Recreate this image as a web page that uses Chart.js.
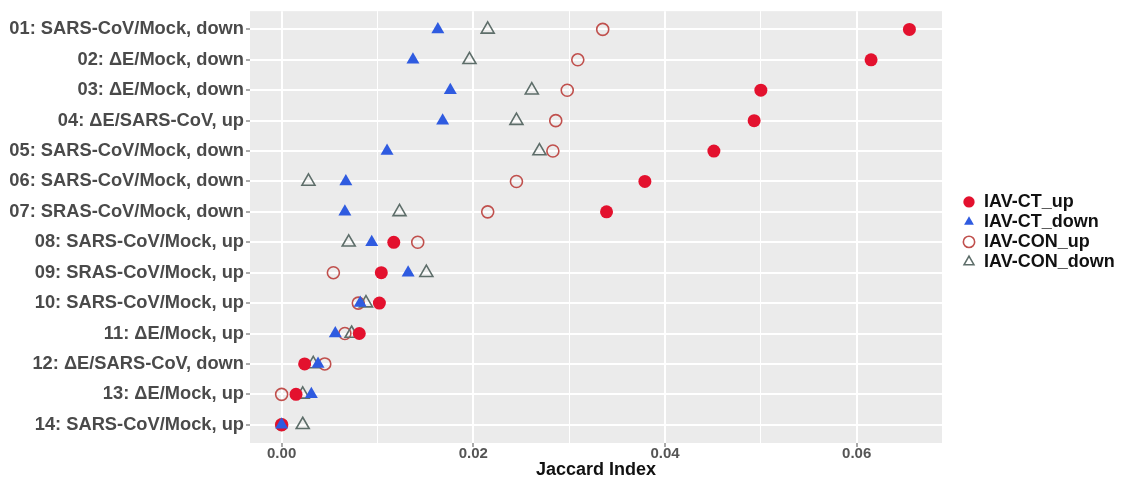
<!DOCTYPE html>
<html>
<head>
<meta charset="utf-8">
<script src="https://cdn.jsdelivr.net/npm/chart.js@4/dist/chart.umd.min.js"></script>
<style>
  body { margin: 0; background: #fff; }
  #wrap { width: 1121px; height: 480px; }
</style>
</head>
<body>
<div id="wrap"><canvas id="chart" width="1121" height="480"></canvas></div>
<script>
// Categorías (de arriba hacia abajo)
const categorias = [
    "01: SARS-CoV/Mock, down",
    "02: ΔE/Mock, down",
    "03: ΔE/Mock, down",
    "04: ΔE/SARS-CoV, up",
    "05: SARS-CoV/Mock, down",
    "06: SARS-CoV/Mock, down",
    "07: SRAS-CoV/Mock, down",
    "08: SARS-CoV/Mock, up",
    "09: SRAS-CoV/Mock, up",
    "10: SARS-CoV/Mock, up",
    "11: ΔE/Mock, up",
    "12: ΔE/SARS-CoV, down",
    "13: ΔE/Mock, up",
    "14: SARS-CoV/Mock, up"
];

// Valores Jaccard por serie
const ctUp    = [0.0655, 0.0615, 0.0500, 0.0493, 0.0451, 0.0379, 0.0339, 0.0117, 0.0104, 0.0102, 0.0081, 0.0024, 0.0015, 0.0000];
const ctDown  = [0.0163, 0.0137, 0.0176, 0.0168, 0.0110, 0.0067, 0.0066, 0.0094, 0.0132, 0.0082, 0.0056, 0.0038, 0.0031, 0.0000];
const conUp   = [0.0335, 0.0309, 0.0298, 0.0286, 0.0283, 0.0245, 0.0215, 0.0142, 0.0054, 0.0080, 0.0066, 0.0045, 0.0000, 0.0000];
const conDown = [0.0215, 0.0196, 0.0261, 0.0245, 0.0269, 0.0028, 0.0123, 0.0070, 0.0151, 0.0088, 0.0073, 0.0033, 0.0022, 0.0022];

const xTicks = [0.00, 0.02, 0.04, 0.06];

const FONT = "'Liberation Sans', Arial, sans-serif";

function puntos(valores) {
    return valores.map((v, i) => ({ x: v, y: i + 1 }));
}

// Fondo gris del panel (estilo ggplot)
const panelBg = {
    id: 'panelBg',
    beforeDraw(chart) {
        const { ctx, chartArea: a } = chart;
        ctx.save();
        ctx.fillStyle = '#ebebeb';
        ctx.fillRect(a.left, a.top, a.right - a.left, a.bottom - a.top);
        ctx.restore();
    }
};

function esMayor(v) {
    const k = Math.round(v / 0.01);
    return xTicks.some(t => Math.abs(t - k * 0.01) < 1e-9);
}

const ctx = document.getElementById('chart').getContext('2d');
new Chart(ctx, {
    type: 'scatter',
    data: {
        datasets: [
            { label: 'IAV-CT_up', data: puntos(ctUp), pointStyle: 'circle', pointRadius: 6.5,
              backgroundColor: '#e3112e', borderColor: '#e3112e', borderWidth: 0, order: 1 },
            { label: 'IAV-CT_down', data: puntos(ctDown), pointStyle: 'triangle', pointRadius: 7.5,
              backgroundColor: '#2f5be0', borderColor: '#2f5be0', borderWidth: 0, order: 0 },
            { label: 'IAV-CON_up', data: puntos(conUp), pointStyle: 'circle', pointRadius: 6,
              backgroundColor: 'rgba(0,0,0,0)', borderColor: '#c0504d', borderWidth: 1.6, order: 3 },
            { label: 'IAV-CON_down', data: puntos(conDown), pointStyle: 'triangle', pointRadius: 7.5,
              backgroundColor: 'rgba(0,0,0,0)', borderColor: '#5e6e6a', borderWidth: 1.6, order: 2 }
        ]
    },
    options: {
        responsive: false,
        animation: false,
        layout: { padding: { top: 10, right: 0, left: 0, bottom: 0 } },
        plugins: {
            tooltip: { enabled: false },
            legend: {
                position: 'right',
                fullSize: false,
                maxWidth: 160,
                // título vacío: sólo baja un poco las entradas
                title: { display: true, text: ' ', padding: 0, font: { size: 8 } },
                labels: {
                    usePointStyle: true,
                    boxWidth: 12,
                    boxHeight: 8,
                    padding: 2,
                    color: '#111',
                    font: { family: FONT, size: 18, weight: 'bold' },
                    sort: (a, b) => a.datasetIndex - b.datasetIndex
                }
            }
        },
        scales: {
            x: {
                type: 'linear',
                min: -0.0033,
                max: 0.0689,
                border: { display: false },
                grid: {
                    color: '#ffffff',
                    lineWidth: c => (c.tick && esMayor(c.tick.value)) ? 2 : 1,
                    tickColor: c => (c.tick && esMayor(c.tick.value)) ? '#555' : 'rgba(0,0,0,0)',
                    tickLength: 4,
                    tickWidth: 1
                },
                ticks: {
                    stepSize: 0.01,
                    includeBounds: false,
                    autoSkip: false,
                    maxRotation: 0,
                    padding: -2,
                    color: '#555',
                    font: { family: FONT, size: 15, weight: 'bold' },
                    callback: v => esMayor(v) ? (Math.round(v / 0.01) * 0.01).toFixed(2) : ''
                },
                title: {
                    display: true,
                    text: 'Jaccard Index',
                    color: '#111',
                    padding: 0,
                    font: { family: FONT, size: 18, weight: 'bold', lineHeight: 1.1 }
                },
                afterFit: s => { s.height = 37; }
            },
            y: {
                type: 'linear',
                reverse: true,
                min: 0.4,
                max: 14.6,
                border: { display: false },
                grid: {
                    color: '#ffffff',
                    lineWidth: 2,
                    tickColor: '#555',
                    tickLength: 4,
                    tickWidth: 1
                },
                ticks: {
                    stepSize: 1,
                    includeBounds: false,
                    autoSkip: false,
                    padding: 2,
                    color: '#4a4a4a',
                    font: { family: FONT, size: 18.3, weight: 'bold', lineHeight: 1.0 },
                    callback: v => categorias[Math.round(v) - 1] || ''
                },
                afterFit: s => { s.width = 250; }
            },
            // separación entre panel y leyenda
            hueco: {
                type: 'linear',
                position: 'right',
                display: true,
                border: { display: false },
                grid: { display: false, drawTicks: false },
                ticks: { display: false },
                afterFit: s => { s.width = 19; }
            }
        }
    },
    plugins: [panelBg]
});
</script>
</body>
</html>
